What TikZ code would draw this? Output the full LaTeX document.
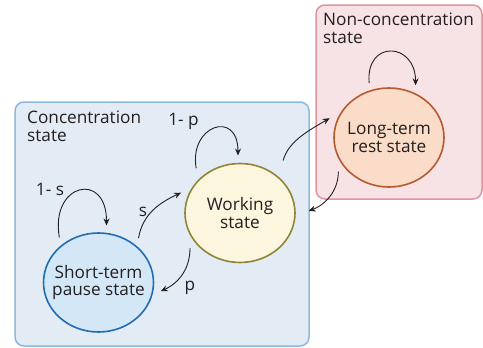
\documentclass[tikz,border=0pt]{standalone}
\usepackage{fontspec}
\setmainfont{Open Sans}
\usetikzlibrary{shapes.geometric,arrows.meta}
\definecolor{concfill}{HTML}{E3ECF5}
\definecolor{concline}{HTML}{8CB9DD}
\definecolor{nonfill}{HTML}{F7E3E6}
\definecolor{nonline}{HTML}{E2939E}
\definecolor{shortfill}{HTML}{D4E7F6}
\definecolor{shortline}{HTML}{1F6DB3}
\definecolor{workfill}{HTML}{FBF6DD}
\definecolor{workline}{HTML}{8F8537}
\definecolor{longfill}{HTML}{FADCC9}
\definecolor{longline}{HTML}{B75A2F}
\definecolor{inkcolor}{HTML}{231F20}

\begin{document}
\begin{tikzpicture}[x=1pt,y=1pt,
  txt/.style={font=\fontsize{17.2}{17.5}\selectfont,text=inkcolor},
  state/.style={ellipse,draw,txt,line width=1.6pt,minimum width=110pt,minimum height=99pt,
    inner xsep=-18pt,inner ysep=-6pt,outer sep=8pt,align=center},
  flow/.style={draw=inkcolor,line width=0.9pt,-{Stealth[length=7pt,width=6pt]}},
  lbl/.style={txt,inner sep=0pt}]
  \useasboundingbox (0,0) rectangle (483,-348);
  % concentration component
  \draw[rounded corners=9pt,fill=concfill,draw=concline,line width=1.5pt] (15,-102) rectangle (309,-346);
  \node[txt,anchor=north west,align=left,inner sep=0pt] (C) at (27,-111) {Concentration\\state};
  % non-concentration component
  \draw[rounded corners=9pt,fill=nonfill,draw=nonline,line width=1.5pt] (316,-5) rectangle (482,-199);
  \node[txt,anchor=north west,align=left,inner sep=0pt] (N) at (323,-13) {Non-concentration\\state};
  % states
  \node[state,fill=shortfill,draw=shortline] (S) at (98.5,-282.5) {Short-term\\pause state};
  \node[state,fill=workfill,draw=workline] (W) at (240,-213) {Working\\state};
  \node[state,fill=longfill,draw=longline] (L) at (389,-137.5) {Long-term\\rest state};
  % self loops
  \draw[flow] (S.131) to[out=100,in=90,looseness=2.9] (S.82);
  \draw[flow,shorten <=3pt] (W.136) to[out=100,in=90,looseness=2.7] (W.92);
  \draw[flow] (L.110) to[out=95,in=90,looseness=2.4] (L.63);
  % transitions
  \draw[flow] (S.48) to[out=80,in=205] (W.161);
  \draw[flow] (W.215) to[out=270,in=25] (S.-8);
  \draw[flow,shorten <=9pt] (W.47) to[out=75,in=210] (L.162);
  \draw[flow,shorten >=6pt] (L.214) to[out=270,in=20] (W.0);
  % probabilities
  \node[lbl] (ps1) at (50,-189) {1- s};
  \node[lbl] (pp1) at (183.5,-121) {1- p};
  \node[lbl] (ps) at (143,-212) {s};
  \node[lbl] (pp) at (190,-288) {p};
\end{tikzpicture}
\end{document}
